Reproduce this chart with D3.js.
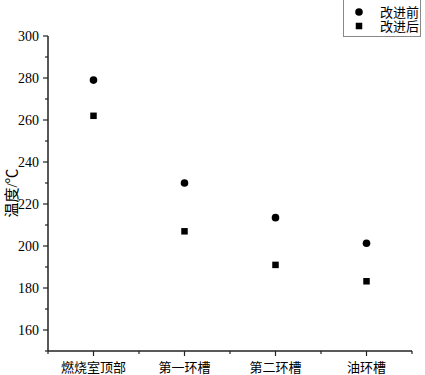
<!DOCTYPE html>
<html>
<head>
<meta charset="utf-8">
<script src="https://cdn.jsdelivr.net/npm/d3@7"></script>
<style>
  body { margin: 0; background: white; }
  text { fill: #000; }
</style>
</head>
<body>
<script>
// data
const categories = ["燃烧室顶部", "第一环槽", "第二环槽", "油环槽"];
const before = [279, 230, 213.5, 201.3];   // 改进前
const after = [262, 207, 191, 183.2];      // 改进后
const seriesNames = ["改进前", "改进后"];
const yTicks = [160, 180, 200, 220, 240, 260, 280, 300];

const W = 425, H = 375;
const plotLeft = 48, plotRight = 412, plotTop = 36, plotBottom = 351;
const numFont = "'Liberation Serif', 'DejaVu Serif', serif";
const cjkFont = "'Liberation Serif', 'Noto Sans CJK SC', serif";

const svg = d3.select("body").append("svg")
    .attr("width", W)
    .attr("height", H)
    .attr("style", "background:white;");

const x = d3.scaleLinear().domain([0.5, 4.5]).range([plotLeft, plotRight]);
const y = d3.scaleLinear().domain([150, 300]).range([plotBottom, plotTop]);

// y axis
const yAxis = svg.append("g").attr("transform", `translate(${plotLeft},0)`);
yAxis.append("line")
    .attr("x1", 0).attr("x2", 0)
    .attr("y1", y(300)).attr("y2", y(150))
    .attr("stroke", "#222").attr("stroke-width", 1.5);
d3.range(150, 301, 10).forEach(v => {
    const major = v % 20 === 0;
    yAxis.append("line")
        .attr("x1", major ? -5 : -3).attr("x2", 0)
        .attr("y1", y(v)).attr("y2", y(v))
        .attr("stroke", "#222").attr("stroke-width", 1.2);
});
yAxis.selectAll(".ylab").data(yTicks).enter().append("text")
    .attr("x", -9)
    .attr("y", d => y(d))
    .attr("dy", "0.35em")
    .attr("text-anchor", "end")
    .attr("font-family", numFont)
    .attr("font-size", 14)
    .text(d => d);

// x axis
const xAxis = svg.append("g").attr("transform", `translate(0,${plotBottom})`);
xAxis.append("line")
    .attr("x1", plotLeft).attr("x2", plotRight)
    .attr("y1", 0).attr("y2", 0)
    .attr("stroke", "#222").attr("stroke-width", 1.5);
d3.range(0.5, 4.51, 0.5).forEach(v => {
    const major = Number.isInteger(v);
    xAxis.append("line")
        .attr("x1", x(v)).attr("x2", x(v))
        .attr("y1", 0).attr("y2", major ? 5 : 3)
        .attr("stroke", "#222").attr("stroke-width", 1.2);
});
xAxis.selectAll(".xlab").data(categories).enter().append("text")
    .attr("x", (d, i) => x(i + 1))
    .attr("y", 21)
    .attr("text-anchor", "middle")
    .attr("font-family", cjkFont)
    .attr("font-size", 13)
    .text(d => d);

// y title
svg.append("text")
    .attr("transform", "translate(17,193) rotate(-90)")
    .attr("text-anchor", "middle")
    .attr("font-family", cjkFont)
    .attr("font-size", 15)
    .text("温度/℃");

// points
svg.selectAll(".before").data(before).enter().append("circle")
    .attr("cx", (d, i) => x(i + 1))
    .attr("cy", d => y(d))
    .attr("r", 3.8)
    .attr("fill", "#000");

const s = 6.5;
svg.selectAll(".after").data(after).enter().append("rect")
    .attr("x", (d, i) => x(i + 1) - s / 2)
    .attr("y", d => y(d) - s / 2)
    .attr("width", s).attr("height", s)
    .attr("fill", "#000");

// legend
const lg = svg.append("g");
lg.append("rect")
    .attr("x", 343.5).attr("y", -1)
    .attr("width", 77).attr("height", 37.5)
    .attr("fill", "white")
    .attr("stroke", "#888").attr("stroke-width", 1);
lg.append("circle").attr("cx", 359).attr("cy", 12).attr("r", 3.8).attr("fill", "#000");
lg.append("rect").attr("x", 359 - s / 2).attr("y", 26 - s / 2)
    .attr("width", s).attr("height", s).attr("fill", "#000");
seriesNames.forEach((n, i) => {
    lg.append("text")
        .attr("x", 380).attr("y", 17 + i * 14)
        .attr("font-family", cjkFont)
        .attr("font-size", 13)
        .text(n);
});
</script>
</body>
</html>
